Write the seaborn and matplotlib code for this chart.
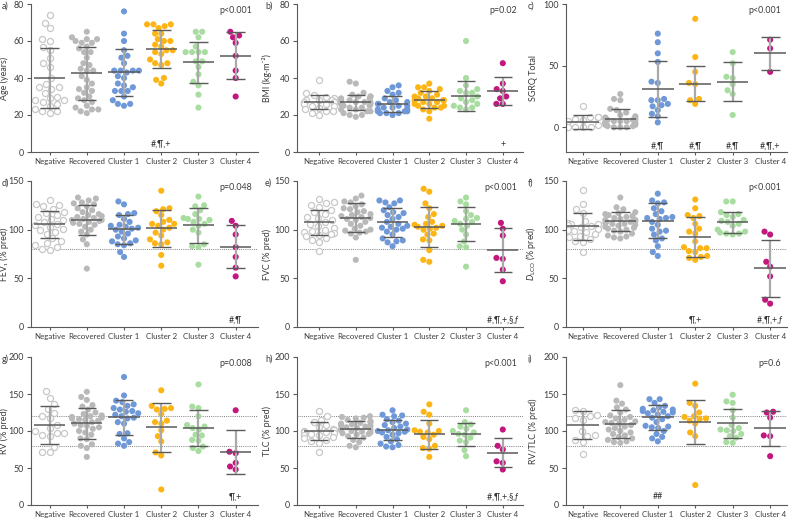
import warnings
from matplotlib import pyplot as plt
from matplotlib import font_manager
from matplotlib.font_manager import FontProperties
from matplotlib.textpath import TextPath
import seaborn as sns
import pandas as pd

warnings.filterwarnings("ignore")

groups = ["Negative", "Recovered", "Cluster 1", "Cluster 2", "Cluster 3", "Cluster 4"]
colors = ["#c8c8c8", "#b9b9b9", "#6f98d8", "#fdb515", "#a8dca0", "#c2187e"]

# a) age
age = [
    [74, 70, 67, 61, 60, 57, 55, 51, 48, 46, 40, 37, 35, 35, 34, 32, 30, 29, 28, 28, 27, 26, 25, 23, 22, 22, 21],
    [65, 62, 61, 61, 60, 59, 59, 57, 56, 54, 54, 51, 48, 47, 45, 44, 44, 41, 39, 37, 35, 34, 33, 32, 30, 29, 28, 27, 25, 24, 23, 23, 22, 21],
    [76, 64, 60, 55, 52, 51, 48, 44, 44, 44, 44, 43, 41, 40, 37, 36, 35, 33, 33, 33, 30, 28, 26, 26, 25],
    [69, 69, 69, 68, 67, 64, 64, 61, 60, 60, 58, 57, 55, 55, 54, 53, 50, 48, 48, 47, 40, 39, 37],
    [65, 65, 62, 57, 54, 54, 54, 54, 49, 49, 46, 42, 38, 36, 31, 24],
    [65, 63, 62, 59, 52, 44, 40, 30],
]
age_mean = [40, 42.5, 43, 55.5, 48.5, 52]
age_sd = [16, 14.3, 12.8, 10.3, 11, 12.6]

# b) BMI
bmi = [
    [39, 32, 31, 30, 29, 28, 28, 28, 27, 27, 26, 26, 25, 25, 24, 23, 22, 22, 21, 20],
    [38, 37, 32, 31, 30, 30, 30, 29, 29, 28, 28, 28, 27, 27, 27, 26, 26, 26, 25, 25, 24, 24, 23, 23, 22, 22, 21, 20, 20, 19],
    [36, 35, 33, 32, 31, 29, 28, 27, 27, 26, 26, 25, 25, 24, 24, 23, 23, 22, 22, 22, 21, 21, 21, 20],
    [37, 35, 35, 34, 33, 32, 31, 30, 30, 29, 29, 28, 28, 28, 27, 27, 26, 26, 25, 25, 24, 24, 23, 22, 18],
    [60, 40, 36, 34, 33, 32, 32, 30, 29, 28, 27, 26, 25, 24, 24, 23],
    [48, 37, 34, 33, 30, 29, 26, 26],
]
bmi_mean = [27, 26.8, 26, 28.3, 30.5, 33]
bmi_sd = [3.7, 4.2, 4.2, 4.7, 8.1, 7.4]

# c) SGRQ total
sgrq = [
    [17, 8, 8, 8, 7, 6, 5, 2, 0, 0, 0, 0],
    [27, 23, 22, 15, 14, 12, 10, 9, 8, 8, 7, 7, 6, 6, 6, 5, 5, 5, 4, 4, 4, 3, 3, 2, 2, 1, 1, 0, 0, 0],
    [76, 69, 60, 53, 37, 36, 23, 22, 22, 19, 18, 17, 14, 11, 9, 4],
    [88, 57, 45, 36, 35, 23, 22, 19],
    [61, 52, 41, 40, 35, 30, 27, 10],
    [71, 64, 45],
]
sgrq_mean = [4.5, 7, 31, 35.5, 37, 60]
sgrq_sd = [5.5, 7.5, 22.8, 14.5, 16, 13.2]

# d) FEV1
fev1 = [
    [130, 126, 125, 124, 121, 118, 117, 115, 113, 111, 110, 108, 106, 105, 103, 101, 100, 98, 96, 91, 88, 86, 84, 82, 80, 79],
    [133, 132, 130, 128, 127, 126, 124, 122, 120, 118, 116, 115, 114, 113, 112, 111, 110, 110, 109, 108, 107, 106, 105, 103, 100, 98, 95, 90, 85, 60],
    [129, 126, 117, 116, 115, 111, 108, 105, 104, 103, 102, 101, 100, 98, 96, 93, 91, 89, 88, 86, 85, 84, 77, 72],
    [140, 122, 121, 119, 115, 110, 108, 106, 106, 104, 102, 100, 97, 94, 90, 87, 86, 85, 74, 63],
    [134, 125, 124, 120, 116, 112, 111, 111, 110, 108, 106, 104, 100, 97, 85, 83, 82, 64],
    [109, 104, 95, 82, 72, 61, 52],
]
fev1_mean = [105.4, 109.8, 100.2, 101.3, 104.3, 82.5]
fev1_sd = [14, 15.5, 15, 19, 17.5, 22]

# e) FVC
fvc = [
    [132, 128, 127, 125, 123, 120, 118, 116, 113, 112, 110, 108, 106, 104, 102, 100, 99, 98, 97, 96, 95, 94, 91, 89, 87, 78],
    [135, 132, 129, 128, 126, 124, 122, 121, 119, 118, 116, 115, 114, 113, 112, 111, 110, 108, 106, 104, 101, 100, 99, 98, 97, 96, 92, 69],
    [130, 130, 128, 127, 123, 120, 118, 117, 115, 113, 111, 108, 106, 104, 103, 102, 101, 100, 98, 95, 91, 89, 88, 87, 83],
    [142, 139, 127, 122, 116, 113, 108, 106, 105, 104, 103, 102, 101, 100, 96, 95, 90, 89, 79, 69, 67],
    [133, 129, 126, 119, 115, 112, 111, 109, 108, 106, 104, 100, 95, 88, 83, 82, 62],
    [107, 101, 94, 71, 70, 59, 47],
]
fvc_mean = [107.4, 112.5, 107.4, 103, 105.4, 79]
fvc_sd = [13.3, 14.8, 14.8, 20.4, 17.5, 22.5]

# f) DLCO
dlco = [
    [141, 126, 121, 117, 109, 107, 106, 106, 105, 104, 103, 101, 100, 99, 98, 96, 94, 92, 90, 88, 87, 77],
    [133, 123, 121, 118, 117, 116, 115, 114, 113, 112, 111, 110, 110, 109, 108, 108, 107, 106, 106, 105, 104, 103, 102, 101, 100, 99, 98, 96, 94, 93, 92, 91],
    [137, 130, 128, 127, 122, 119, 116, 113, 112, 112, 111, 108, 105, 101, 99, 98, 95, 91, 89, 83, 77, 73],
    [131, 122, 115, 114, 112, 106, 101, 98, 96, 88, 82, 81, 81, 78, 77, 73, 72, 71, 69],
    [129, 129, 118, 116, 115, 113, 110, 109, 108, 106, 104, 100, 98, 97, 96, 96, 95],
    [98, 95, 67, 62, 52, 28, 24],
]
dlco_mean = [103.6, 108.8, 109, 92.7, 107.7, 60.3]
dlco_sd = [14, 9.8, 18, 20.4, 10.9, 29.5]

# g) RV
rv = [
    [154, 145, 136, 130, 125, 120, 117, 108, 104, 100, 97, 97, 95, 93, 79, 72, 71],
    [153, 146, 142, 135, 133, 129, 125, 123, 121, 120, 119, 118, 117, 116, 115, 114, 112, 110, 108, 107, 105, 103, 100, 98, 95, 90, 89, 82, 80, 77, 65],
    [173, 148, 141, 139, 136, 134, 131, 129, 127, 126, 124, 122, 120, 118, 117, 112, 110, 97, 96, 90, 85, 83, 80],
    [155, 134, 131, 130, 129, 123, 114, 112, 110, 101, 93, 86, 71, 67, 21],
    [163, 133, 131, 120, 108, 106, 104, 102, 95, 94, 88, 87, 79, 77, 73],
    [128, 72, 70, 57, 52, 48],
]
rv_mean = [107.7, 110.4, 118.6, 105, 104, 71.5]
rv_sd = [25.5, 21, 23.7, 33.5, 24.2, 29.7]

# h) TLC
tlc = [
    [127, 120, 115, 112, 108, 105, 103, 101, 100, 99, 98, 97, 96, 95, 94, 92, 90, 88, 86, 84, 71],
    [120, 119, 118, 117, 115, 113, 112, 111, 110, 109, 108, 107, 106, 105, 104, 103, 102, 101, 100, 99, 98, 97, 96, 95, 93, 91, 88, 85, 80, 78],
    [128, 122, 121, 120, 116, 114, 112, 110, 108, 106, 104, 102, 101, 100, 99, 98, 97, 95, 92, 89, 86, 83, 81, 79, 78],
    [136, 126, 122, 110, 101, 100, 99, 98, 95, 92, 89, 80, 77, 76, 65],
    [128, 112, 109, 106, 103, 100, 98, 96, 95, 91, 87, 85, 74, 66],
    [102, 80, 75, 59, 57, 48],
]
tlc_mean = [100, 102.3, 101.4, 95.5, 95.5, 70.6]
tlc_sd = [12.2, 11.1, 14, 19.5, 15.2, 19.7]

# i) RV/TLC
rvtlc = [
    [129, 127, 122, 120, 118, 115, 100, 94, 93, 88, 85, 69],
    [162, 141, 137, 132, 129, 125, 121, 119, 117, 115, 113, 112, 111, 110, 108, 106, 104, 102, 100, 98, 96, 94, 92, 90, 88, 86, 85, 84],
    [143, 143, 138, 134, 132, 130, 129, 128, 127, 126, 125, 124, 122, 120, 118, 116, 112, 107, 106, 105, 104, 100, 96, 92, 90, 86],
    [164, 138, 134, 125, 120, 119, 117, 116, 114, 110, 98, 93, 27],
    [149, 140, 138, 128, 118, 108, 104, 102, 101, 100, 96, 93, 91, 85, 84],
    [126, 125, 118, 94, 93, 66],
]
rvtlc_mean = [107.7, 109.5, 118.6, 112.2, 110.4, 103.6]
rvtlc_sd = [19, 19, 17.2, 29.9, 20, 24]

sns.set_style("ticks")

# pick the narrowest installed sans so the group names fit like the original
installed = {f.name for f in font_manager.fontManager.ttflist}
cands = [f for f in ["Liberation Sans Narrow", "Lato", "Roboto", "Liberation Sans", "Noto Sans"] if f in installed]
def em_width(fam):
    return TextPath((0, 0), "Recovered", size=1, prop=FontProperties(family=fam)).get_extents().width
font = min(cands, key=em_width) if cands else "DejaVu Sans"
fs_x = min(6.6, 35.5 / (em_width(font) * 100 / 72))
fs = 6.4

plt.rcParams["font.family"] = [font, "DejaVu Sans"]
plt.rcParams["mathtext.fontset"] = "custom"
plt.rcParams["mathtext.rm"] = font
plt.rcParams["mathtext.it"] = font + ":italic"
plt.rcParams["mathtext.default"] = "regular"

txt = "#3c3c3c"
axc = "#5a5a5a"

ffix = r"#,¶,+,§,$\mathit{f}$"
panels = [
    ("a)", age, age_mean, age_sd, "Age (years)", (0, 80), [0, 20, 40, 60, 80], "p<0.001", [], [(3, "#,¶,+", 4)]),
    ("b)", bmi, bmi_mean, bmi_sd, "BMI (kg·m⁻²)", (0, 80), [0, 20, 40, 60, 80], "p=0.02", [], [(5, "+", 4)]),
    ("c)", sgrq, sgrq_mean, sgrq_sd, "SGRQ Total", (-20, 100), [0, 50, 100], "p<0.001", [],
     [(2, "#,¶", -15.5), (3, "#,¶", -15.5), (4, "#,¶", -15.5), (5, "#,¶,+", -15.5)]),
    ("d)", fev1, fev1_mean, fev1_sd, "FEV₁ (% pred)", (0, 150), [0, 50, 100, 150], "p=0.048", [80], [(5, "#,¶", 7.5)]),
    ("e)", fvc, fvc_mean, fvc_sd, "FVC (% pred)", (0, 150), [0, 50, 100, 150], "p<0.001", [80], [(5, ffix, 7.5)]),
    ("f)", dlco, dlco_mean, dlco_sd, r"$\mathit{D}_{LCO}$ (% pred)", (0, 150), [0, 50, 100, 150], "p<0.001", [80],
     [(3, "¶,+", 7.5), (5, r"#,¶,+,$\mathit{f}$", 7.5)]),
    ("g)", rv, rv_mean, rv_sd, "RV (% pred)", (0, 200), [0, 50, 100, 150, 200], "p=0.008", [80, 120], [(5, "¶,+", 11)]),
    ("h)", tlc, tlc_mean, tlc_sd, "TLC (% pred)", (0, 200), [0, 50, 100, 150, 200], "p<0.001", [80, 120], [(5, ffix, 11)]),
    ("i)", rvtlc, rvtlc_mean, rvtlc_sd, "RV/TLC (% pred)", (0, 200), [0, 50, 100, 150, 200], "p=0.6", [80, 120], [(2, "##", 11)]),
]

W, H = 789, 519
col_lr = [(31, 258), (297, 523), (566, 787)]
col_xlim = [(-0.5, 5.6), (-0.6, 5.55), (-0.45, 5.45)]
col_ylab = [-0.095, -0.112, -0.125]
row_tb = [(4, 152), (181, 327), (357, 505)]
lab_x = [2, 265, 528]

fig = plt.figure(figsize=(W / 100, H / 100), dpi=100)

for k, (lab, vals, means, sds, ylab, ylim, yticks, pval, refs, notes) in enumerate(panels):
    r, c = divmod(k, 3)
    l, rr = col_lr[c]
    t, b = row_tb[r]
    ax = fig.add_axes([l / W, 1 - b / H, (rr - l) / W, (b - t) / H])

    df = pd.DataFrame({
        "group": [g for g, v in zip(groups, vals) for _ in v],
        "value": [x for v in vals for x in v],
    })
    sns.swarmplot(data=df, x="group", y="value", hue="group", order=groups, hue_order=groups,
                  palette=colors, size=4.4, linewidth=0, legend=False, ax=ax, zorder=2)
    for coll in ax.collections:
        offs = coll.get_offsets()
        if len(offs) and abs(offs[:, 0].mean()) < 0.45:
            coll.set_facecolor("white")
            coll.set_edgecolor(colors[0])
            coll.set_linewidth(0.9)

    for y in refs:
        ax.axhline(y, color="#808080", lw=0.7, ls=(0, (1, 1.2)), zorder=1)

    pos = list(range(len(groups)))
    lo = [m - s for m, s in zip(means, sds)]
    hi = [m + s for m, s in zip(means, sds)]
    ax.vlines(pos, lo, hi, color="#a9a9a9", lw=1.6, zorder=3)
    ax.hlines(lo, [p - 0.25 for p in pos], [p + 0.25 for p in pos], color=axc, lw=1, zorder=4)
    ax.hlines(hi, [p - 0.25 for p in pos], [p + 0.25 for p in pos], color=axc, lw=1, zorder=4)
    ax.hlines(means, [p - 0.42 for p in pos], [p + 0.42 for p in pos], color=axc, lw=1.1, zorder=4)

    for gi, s, y in notes:
        ax.text(gi, y, s, ha="center", va="center", fontsize=fs, color="#333333")

    ax.text(0.975, 0.985, pval, transform=ax.transAxes, ha="right", va="top", fontsize=fs, color=txt)

    ax.set_xlim(*col_xlim[c])
    ax.set_ylim(*ylim)
    ax.set_yticks(yticks)
    ax.set_xlabel("")
    ax.set_ylabel(ylab, fontsize=fs, color=txt)
    ax.yaxis.set_label_coords(col_ylab[c], 0.5)
    sns.despine(ax=ax)
    for sp in ["left", "bottom"]:
        ax.spines[sp].set_color(axc)
        ax.spines[sp].set_linewidth(0.8)
    ax.tick_params(axis="y", labelsize=fs, colors=axc, labelcolor=txt, length=3, width=0.8, pad=2)
    ax.tick_params(axis="x", labelsize=fs_x, colors=axc, labelcolor=txt, length=2.5, width=0.8, pad=2)

    fig.text(lab_x[c] / W, 1 - (t + 2) / H, lab, ha="left", va="center", rotation=0, fontsize=fs, color=txt)

fig.savefig("out.png", dpi=100)
